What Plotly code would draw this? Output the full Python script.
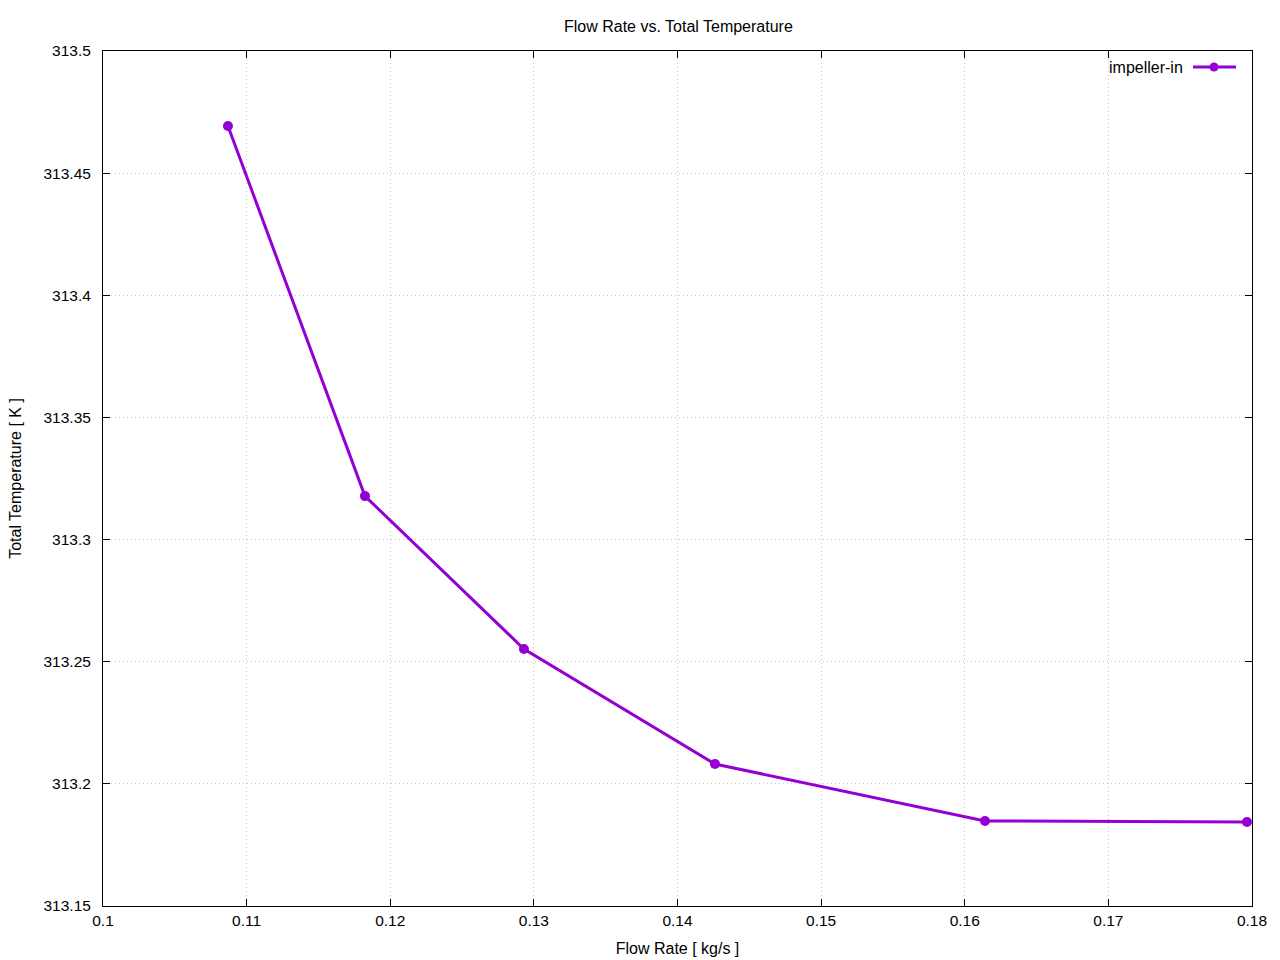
import plotly.graph_objects as go

flow_rate = [0.10870, 0.11824, 0.12931, 0.14261, 0.16141, 0.17965]
total_temp = [313.4693, 313.3178, 313.2552, 313.2081, 313.1848, 313.1844]
series_name = "impeller-in"

x_ticks = [0.1, 0.11, 0.12, 0.13, 0.14, 0.15, 0.16, 0.17, 0.18]
x_tick_labels = ["0.1", "0.11", "0.12", "0.13", "0.14", "0.15", "0.16", "0.17", "0.18"]
y_ticks = [313.15, 313.2, 313.25, 313.3, 313.35, 313.4, 313.45, 313.5]
y_tick_labels = ["313.15", "313.2", "313.25", "313.3", "313.35", "313.4", "313.45", "313.5"]

color = "#9400D3"
family = "Liberation Sans, Arial, sans-serif"
font = dict(family=family, size=15.5, color="black")
title_font = dict(family=family, size=16, color="black")

fig = go.Figure()
fig.add_trace(go.Scatter(
    x=flow_rate, y=total_temp, mode="lines+markers", name=series_name,
    line=dict(color=color, width=3), marker=dict(color=color, size=10),
    showlegend=False,
))

axis_common = dict(
    showline=True, linecolor="black", linewidth=1, mirror="ticks",
    ticks="inside", ticklen=7, tickcolor="black",
    showgrid=True, gridcolor="#c8c8c8", griddash="1px,3px", gridwidth=1,
    zeroline=False, tickfont=font, automargin=False,
)

fig.update_layout(
    width=1280, height=960,
    paper_bgcolor="white", plot_bgcolor="white",
    margin=dict(l=103, r=28, t=51, b=54),
    font=font,
    title=dict(text="Flow Rate vs. Total Temperature", x=0.53, xanchor="center",
               y=1 - 26 / 960, yanchor="middle", font=title_font),
    xaxis=dict(range=[0.1, 0.18], tickvals=x_ticks, ticktext=x_tick_labels,
               title=dict(text="Flow Rate [ kg/s ]", standoff=15, font=title_font),
               **axis_common),
    yaxis=dict(range=[313.15, 313.5], tickvals=y_ticks, ticktext=y_tick_labels,
               ticklabelstandoff=8,
               title=dict(text="Total Temperature [ K ]", standoff=17, font=title_font),
               **axis_common),
)

# Legend drawn gnuplot-style (text left, sample right)
ly = 1 - (67 - 51) / 855
fig.add_annotation(xref="paper", yref="paper", x=(1185 - 103) / 1149, y=ly,
                   text=series_name, showarrow=False, xanchor="right", yanchor="middle",
                   font=title_font)
fig.add_shape(type="line", xref="paper", yref="paper",
              x0=(1193 - 103) / 1149, x1=(1236 - 103) / 1149, y0=ly, y1=ly,
              line=dict(color=color, width=3))
fig.add_shape(type="circle", xref="paper", yref="paper",
              xsizemode="pixel", ysizemode="pixel",
              xanchor=(1214 - 103) / 1149, yanchor=ly,
              x0=-4.5, x1=4.5, y0=-4.5, y1=4.5,
              fillcolor=color, line=dict(color=color, width=0))

fig.write_html("out.html", config={"displayModeBar": False},
               post_script="document.body.style.margin='0';")
